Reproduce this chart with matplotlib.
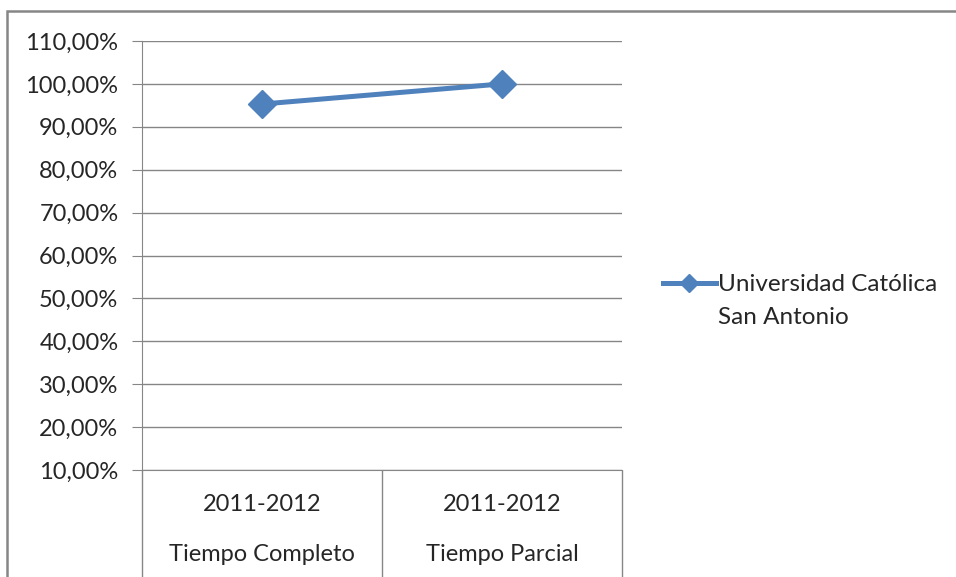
import matplotlib.pyplot as plt
from matplotlib.lines import Line2D
from matplotlib.patches import Rectangle
from matplotlib.ticker import FuncFormatter

plt.rcParams['font.family'] = ['Lato', 'DejaVu Sans']

# data
years = ["2011-2012", "2011-2012"]
categories = ["Tiempo Completo", "Tiempo Parcial"]
values = [95.3, 100.0]
series_name = ["Universidad Católica", "San Antonio"]

blue = "#4F81BD"
grid_gray = "#868686"
text_color = "#262626"

fig = plt.figure(figsize=(9.56, 5.77), dpi=100)
ax = fig.add_axes([142 / 956, 1 - 470 / 577, 480 / 956, 429 / 577])

x = list(range(len(values)))
ax.plot(x, values, color=blue, linewidth=3.6, marker="D",
        markersize=14, zorder=3)

ax.set_xlim(-0.5, len(values) - 0.5)
ax.set_ylim(10, 110)
ax.set_yticks(range(10, 111, 10))
ax.yaxis.set_major_formatter(FuncFormatter(lambda v, p: f"{v:.2f}".replace(".", ",") + "%"))
ax.grid(axis="y", color=grid_gray, linewidth=1)
ax.set_axisbelow(True)

for side in ["top", "right"]:
    ax.spines[side].set_visible(False)
ax.spines["left"].set_color(grid_gray)
ax.spines["bottom"].set_color(grid_gray)
ax.tick_params(axis="y", length=7, color=grid_gray, labelsize=17,
               labelcolor=text_color, pad=10)

# category separators running down through the label area
ax.set_xticks([i - 0.5 for i in range(len(values) + 1)])
ax.set_xticklabels([])
ax.tick_params(axis="x", length=78, color=grid_gray, width=1, direction="out")

xt = ax.get_xaxis_transform()
for i in x:
    ax.text(i, -0.08, years[i], transform=xt, ha="center", va="center",
            fontsize=17, color=text_color)
    ax.text(i, -0.198, categories[i], transform=xt, ha="center", va="center",
            fontsize=17, color=text_color)

# legend: handle sits on the first line of the two-line name
handles = [Line2D([], [], color=blue, linewidth=3.6, marker="D", markersize=9),
           Line2D([], [], linestyle="none")]
fig.legend(handles=handles, labels=series_name, loc="upper left",
           bbox_to_anchor=(0.693, 0.525), frameon=False, fontsize=17.5,
           handlelength=2.2, handletextpad=0.1, labelspacing=0.47,
           labelcolor=text_color, borderaxespad=0, borderpad=0)

# outer chart frame
fig.patches.append(Rectangle((7 / 956, -0.1), 1.2, 1.1 - 11 / 577,
                             transform=fig.transFigure, fill=False,
                             edgecolor=grid_gray, linewidth=1.8))

fig.savefig("out.png", dpi=100)
